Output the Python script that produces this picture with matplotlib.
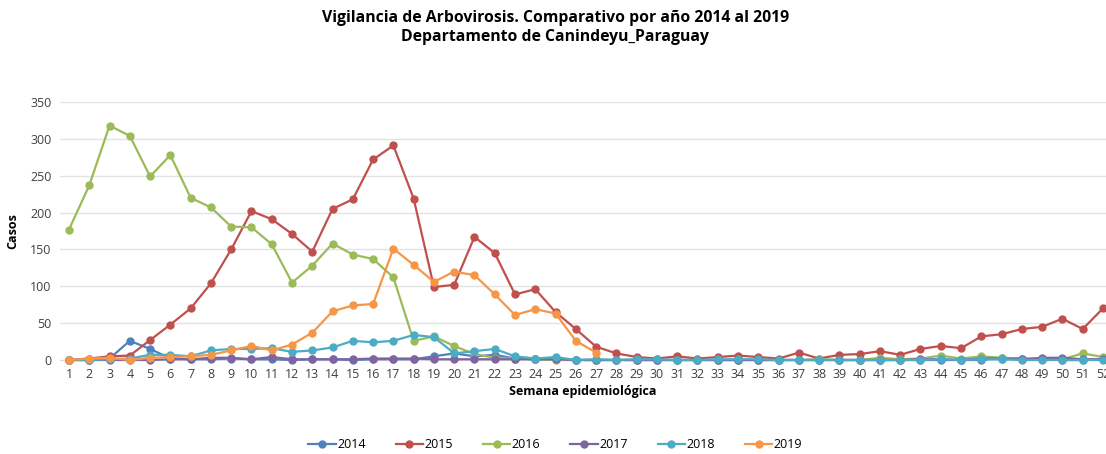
import matplotlib.pyplot as plt
import numpy as np

plt.rcParams['font.family'] = ['Open Sans', 'DejaVu Sans']

semanas = list(range(1, 53))
anios = ["2014", "2015", "2016", "2017", "2018", "2019"]
colores = ["#4F81BD", "#C0504D", "#9BBB59", "#8064A2", "#4BACC6", "#F79646"]

casos_2014 = [0, 0, 2, 26, 15, 2, 1, 1, 2, 1, 1, 0, 1, 1, 0, 1, 1, 1, 5, 9,
              5, 7, 2, 1, 1, 0, 0, 0, 0, 0, 0, 0, 0, 0, 0, 0, 0, 0, 0, 0,
              0, 0, 0, 0, 0, 0, 3, 2, 1, 0, 0, 1]
casos_2015 = [0, 2, 5, 6, 27, 48, 70, 104, 150, 202, 191, 171, 147, 205, 218, 272, 291, 219, 99, 102,
              167, 145, 89, 96, 65, 42, 18, 9, 4, 2, 5, 2, 4, 6, 4, 2, 10, 2, 7, 8,
              12, 7, 15, 19, 16, 32, 35, 42, 45, 56, 42, 70]
casos_2016 = [177, 237, 318, 304, 249, 278, 220, 207, 181, 180, 157, 105, 128, 158, 143, 137, 112, 26, 32, 19,
              8, 3, 2, 1, 0, 0, 0, 0, 0, 0, 0, 0, 0, 0, 0, 0, 0, 1, 0, 0,
              3, 1, 2, 6, 2, 5, 3, 1, 1, 1, 9, 4]
casos_2017 = [0, 0, 0, 0, 0, 1, 1, 3, 3, 1, 4, 1, 1, 1, 1, 2, 2, 2, 1, 1,
              1, 1, 1, 1, 1, 0, 0, 0, 0, 0, 0, 0, 0, 0, 0, 0, 0, 0, 0, 0,
              0, 0, 1, 1, 0, 2, 2, 1, 3, 3, 1, 1]
casos_2018 = [0, 0, 1, 2, 7, 7, 5, 13, 15, 15, 16, 11, 13, 17, 26, 24, 26, 34, 31, 9,
              12, 15, 5, 2, 4, 0, 1, 0, 1, 1, 0, 0, 1, 1, 1, 0, 0, 0, 0, 0,
              0, 0, 0, 1, 0, 1, 1, 0, 0, 0, 0, 0]
casos_2019 = [0, 2, 3, 0, 3, 4, 5, 7, 13, 19, 13, 21, 37, 66, 74, 76, 151, 129, 106, 120,
              115, 89, 61, 69, 63, 26, 10]

series = [casos_2014, casos_2015, casos_2016, casos_2017, casos_2018, casos_2019]

fig = plt.figure(figsize=(11.06, 4.54), dpi=100)
ax = fig.add_axes([60 / 1106, 1 - 360 / 454, 1046 / 1106, 258 / 454])

for anio, datos, color in zip(anios, series, colores):
    ax.plot(semanas[:len(datos)], datos, color=color, lw=1.6, marker='o',
            markersize=5, label=anio, clip_on=False, zorder=3)

ax.set_xlim(0.556, 52.15)
ax.set_ylim(0, 350)
ax.set_xticks(semanas)
ax.set_yticks(np.arange(0, 351, 50))
ax.tick_params(length=0, labelsize=9, colors='#404040', pad=6)
ax.grid(axis='y', color='#E3E3E3', lw=1)
ax.set_axisbelow(True)
for s in ['top', 'right', 'left']:
    ax.spines[s].set_visible(False)
ax.spines['bottom'].set_color('#D9D9D9')

ax.set_xlabel("Semana epidemiológica", fontsize=9, fontweight='bold', labelpad=3)
ax.set_ylabel("Casos", fontsize=9, fontweight='bold', labelpad=8)

fig.text(0.502, 0.94, "Vigilancia de Arbovirosis. Comparativo por año 2014 al 2019\nDepartamento de Canindeyu_Paraguay",
         ha='center', va='center', fontsize=11.3, fontweight='bold', linespacing=1.25)

fig.legend(loc='center', bbox_to_anchor=(0.502, 0.02), ncol=6, frameon=False,
           fontsize=9, handlelength=2.2, columnspacing=2.4, handletextpad=0.1)

plt.savefig('out.png', dpi=100)
